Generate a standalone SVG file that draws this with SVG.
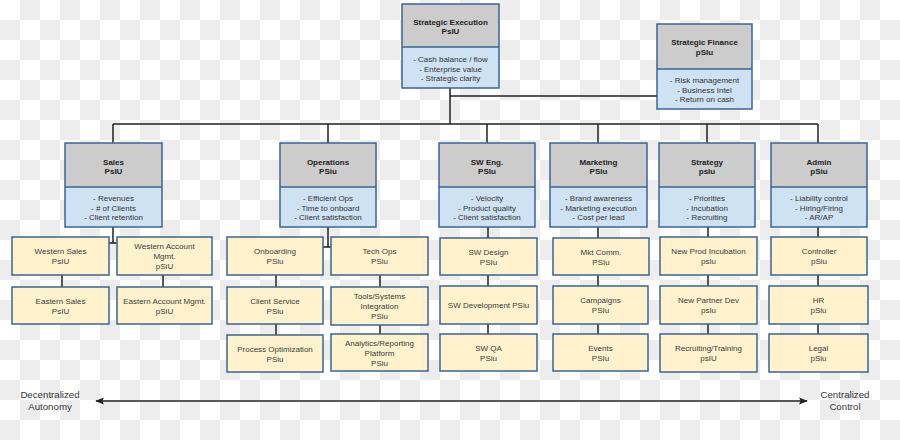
<svg xmlns="http://www.w3.org/2000/svg" width="900" height="440" viewBox="0 0 900 440">
<style>
.hd{fill:#cccccc;stroke:none}
.bd{fill:#cfe2f3;stroke:none}
.ol{fill:none;stroke:#3a6592;stroke-width:1.5}
.yl{fill:#fff2cc;stroke:#3a6592;stroke-width:1.5}
.sep{stroke:#3a6592;stroke-width:1.5}
text{font-family:"Liberation Sans",Arial,sans-serif;font-size:8px;text-anchor:middle}
.t{font-weight:bold;fill:#222}
.b{fill:#333}
.y{fill:#3c3c3c}
.ax{font-size:9.7px;fill:#333}
.cn{fill:none;stroke:#222;stroke-width:1.5}
</style>
<defs>
<pattern id="chk" width="40" height="40" patternUnits="userSpaceOnUse">
<rect width="40" height="40" fill="#ffffff"/>
<rect x="20" y="0" width="20" height="20" fill="#ededed"/>
<rect x="0" y="20" width="20" height="20" fill="#ededed"/>
</pattern>
<marker id="ah" viewBox="0 0 10 10" refX="9" refY="5" markerWidth="6" markerHeight="6" orient="auto-start-reverse" markerUnits="strokeWidth">
<path d="M0,1 L10,5 L0,9 L2,5 z" fill="#222"/>
</marker>
</defs>
<rect width="900" height="440" fill="url(#chk)"/>

<g id="connectors">
<path class="cn" d="M450,88 V124 M450,96 H657 M113,124 H818 M113,124 V143 M328,124 V143 M487,124 V143 M598,124 V143 M707,124 V143 M818,124 V143"/>
<path class="cn" d="M113,227 V243 M109,243 H117 M62,275 V287 M163,275 V287"/>
<path class="cn" d="M328,227 V247 M323,247 H331 M276,275 V335 M380,275 V334"/>
<path class="cn" d="M488,227 V334 M598,227 V334 M708,227 V334 M818,227 V334"/>
<path class="cn" d="M96,401 H807" marker-start="url(#ah)" marker-end="url(#ah)"/>
</g>

<g id="strategic-execution">
<rect class="hd" x="402" y="4" width="97" height="43"/><rect class="bd" x="402" y="47" width="97" height="41"/>
<line class="sep" x1="402" y1="47" x2="499" y2="47"/><rect class="ol" x="402" y="4" width="97" height="84"/>
<text class="t" x="450.5" y="24.5">Strategic Execution</text><text class="t" x="450.5" y="34">PsIU</text>
<text class="b" x="450.5" y="62">- Cash balance / flow</text><text class="b" x="450.5" y="71.5">- Enterprise value</text><text class="b" x="450.5" y="81">- Strategic clarity</text>
</g>
<g id="strategic-finance">
<rect class="hd" x="657" y="24" width="95" height="45"/><rect class="bd" x="657" y="69" width="95" height="40"/>
<line class="sep" x1="657" y1="69" x2="752" y2="69"/><rect class="ol" x="657" y="24" width="95" height="85"/>
<text class="t" x="704.5" y="45">Strategic Finance</text><text class="t" x="704.5" y="55">pSIu</text>
<text class="b" x="704.5" y="83">- Risk management</text><text class="b" x="704.5" y="92.5">- Business Intel</text><text class="b" x="704.5" y="102">- Return on cash</text>
</g>

<g id="sales">
<rect class="hd" x="65" y="143" width="97" height="44"/><rect class="bd" x="65" y="187" width="97" height="40"/>
<line class="sep" x1="65" y1="187" x2="162" y2="187"/><rect class="ol" x="65" y="143" width="97" height="84"/>
<text class="t" x="113.5" y="164.5">Sales</text><text class="t" x="113.5" y="174">PsIU</text>
<text class="b" x="113.5" y="201">- Revenues</text><text class="b" x="113.5" y="210.5">- # of Clients</text><text class="b" x="113.5" y="220">- Client retention</text>
</g>
<g id="operations">
<rect class="hd" x="280" y="143" width="96" height="44"/><rect class="bd" x="280" y="187" width="96" height="40"/>
<line class="sep" x1="280" y1="187" x2="376" y2="187"/><rect class="ol" x="280" y="143" width="96" height="84"/>
<text class="t" x="328" y="164.5">Operations</text><text class="t" x="328" y="174">PSiu</text>
<text class="b" x="328" y="201">- Efficient Ops</text><text class="b" x="328" y="210.5">- Time to onboard</text><text class="b" x="328" y="220">- Client satisfaction</text>
</g>
<g id="sw-eng">
<rect class="hd" x="439" y="143" width="96" height="44"/><rect class="bd" x="439" y="187" width="96" height="40"/>
<line class="sep" x1="439" y1="187" x2="535" y2="187"/><rect class="ol" x="439" y="143" width="96" height="84"/>
<text class="t" x="487" y="164.5">SW Eng.</text><text class="t" x="487" y="174">PSIu</text>
<text class="b" x="487" y="201">- Velocity</text><text class="b" x="487" y="210.5">- Product quality</text><text class="b" x="487" y="220">- Client satisfaction</text>
</g>
<g id="marketing">
<rect class="hd" x="550" y="143" width="97" height="44"/><rect class="bd" x="550" y="187" width="97" height="40"/>
<line class="sep" x1="550" y1="187" x2="647" y2="187"/><rect class="ol" x="550" y="143" width="97" height="84"/>
<text class="t" x="598.5" y="164.5">Marketing</text><text class="t" x="598.5" y="174">PSIu</text>
<text class="b" x="598.5" y="201">- Brand awareness</text><text class="b" x="598.5" y="210.5">- Marketing execution</text><text class="b" x="598.5" y="220">- Cost per lead</text>
</g>
<g id="strategy">
<rect class="hd" x="659" y="143" width="96" height="44"/><rect class="bd" x="659" y="187" width="96" height="40"/>
<line class="sep" x1="659" y1="187" x2="755" y2="187"/><rect class="ol" x="659" y="143" width="96" height="84"/>
<text class="t" x="707" y="164.5">Strategy</text><text class="t" x="707" y="174">psIu</text>
<text class="b" x="707" y="201">- Priorities</text><text class="b" x="707" y="210.5">- Incubation</text><text class="b" x="707" y="220">- Recruiting</text>
</g>
<g id="admin">
<rect class="hd" x="771" y="143" width="96" height="44"/><rect class="bd" x="771" y="187" width="96" height="40"/>
<line class="sep" x1="771" y1="187" x2="867" y2="187"/><rect class="ol" x="771" y="143" width="96" height="84"/>
<text class="t" x="819" y="164.5">Admin</text><text class="t" x="819" y="174">pSiu</text>
<text class="b" x="819" y="201">- Liability control</text><text class="b" x="819" y="210.5">- Hiring/Firing</text><text class="b" x="819" y="220">- AR/AP</text>
</g>

<g id="western-sales"><rect class="yl" x="12" y="237" width="97" height="38"/><text class="y" x="60.5" y="254">Western Sales</text><text class="y" x="60.5" y="264">PsIU</text></g>
<g id="western-account-mgmt"><rect class="yl" x="117" y="237" width="95" height="38"/><text class="y" x="164.5" y="249">Western Account</text><text class="y" x="164.5" y="259">Mgmt.</text><text class="y" x="164.5" y="269">pSiU</text></g>
<g id="eastern-sales"><rect class="yl" x="12" y="287" width="97" height="37"/><text class="y" x="60.5" y="303.5">Eastern Sales</text><text class="y" x="60.5" y="313.5">PsIU</text></g>
<g id="eastern-account-mgmt"><rect class="yl" x="117" y="287" width="95" height="37"/><text class="y" x="164.5" y="303.5">Eastern Account Mgmt.</text><text class="y" x="164.5" y="313.5">pSiU</text></g>

<g id="onboarding"><rect class="yl" x="227" y="237" width="96" height="38"/><text class="y" x="275" y="254">Onboarding</text><text class="y" x="275" y="264">PSiu</text></g>
<g id="tech-ops"><rect class="yl" x="331" y="237" width="97" height="38"/><text class="y" x="379.5" y="254">Tech Ops</text><text class="y" x="379.5" y="264">PSiu</text></g>
<g id="client-service"><rect class="yl" x="227" y="287" width="96" height="37"/><text class="y" x="275" y="303.5">Client Service</text><text class="y" x="275" y="313.5">PSiu</text></g>
<g id="tools-systems"><rect class="yl" x="331" y="287" width="97" height="38"/><text class="y" x="379.5" y="299">Tools/Systems</text><text class="y" x="379.5" y="309">Integration</text><text class="y" x="379.5" y="319">PSiu</text></g>
<g id="process-optimization"><rect class="yl" x="227" y="335" width="96" height="37"/><text class="y" x="275" y="351.5">Process Optimization</text><text class="y" x="275" y="361.5">PSiu</text></g>
<g id="analytics-reporting"><rect class="yl" x="331" y="334" width="97" height="37"/><text class="y" x="379.5" y="345.5">Analytics/Reporting</text><text class="y" x="379.5" y="355.5">Platform</text><text class="y" x="379.5" y="365.5">PSiu</text></g>

<g id="sw-design"><rect class="yl" x="440" y="238" width="97" height="37"/><text class="y" x="488.5" y="254.5">SW Design</text><text class="y" x="488.5" y="264.5">PSIu</text></g>
<g id="sw-development"><rect class="yl" x="440" y="286" width="97" height="38"/><text class="y" x="488.5" y="308">SW Development PSiu</text></g>
<g id="sw-qa"><rect class="yl" x="440" y="334" width="97" height="37"/><text class="y" x="488.5" y="350.5">SW QA</text><text class="y" x="488.5" y="360.5">PSiu</text></g>

<g id="mkt-comm"><rect class="yl" x="553" y="238" width="96" height="37"/><text class="y" x="601" y="254.5">Mkt Comm.</text><text class="y" x="601" y="264.5">PSIu</text></g>
<g id="campaigns"><rect class="yl" x="553" y="286" width="95" height="38"/><text class="y" x="600.5" y="303">Campaigns</text><text class="y" x="600.5" y="313">PSIu</text></g>
<g id="events"><rect class="yl" x="553" y="334" width="95" height="37"/><text class="y" x="600.5" y="350.5">Events</text><text class="y" x="600.5" y="360.5">PSIu</text></g>

<g id="new-prod-incubation"><rect class="yl" x="660" y="237" width="97" height="38"/><text class="y" x="708.5" y="254">New Prod Incubation</text><text class="y" x="708.5" y="264">psIu</text></g>
<g id="new-partner-dev"><rect class="yl" x="660" y="286" width="97" height="38"/><text class="y" x="708.5" y="303">New Partner Dev</text><text class="y" x="708.5" y="313">psIu</text></g>
<g id="recruiting-training"><rect class="yl" x="660" y="334" width="97" height="38"/><text class="y" x="708.5" y="351">Recruiting/Training</text><text class="y" x="708.5" y="361">psIU</text></g>

<g id="controller"><rect class="yl" x="771" y="237" width="96" height="38"/><text class="y" x="819" y="254">Controller</text><text class="y" x="819" y="264">pSiu</text></g>
<g id="hr"><rect class="yl" x="769" y="286" width="99" height="38"/><text class="y" x="818.5" y="303">HR</text><text class="y" x="818.5" y="313">pSiu</text></g>
<g id="legal"><rect class="yl" x="769" y="334" width="99" height="38"/><text class="y" x="818.5" y="351">Legal</text><text class="y" x="818.5" y="361">pSiu</text></g>

<g id="axis-labels">
<text class="ax" x="50" y="398">Decentralized</text><text class="ax" x="50" y="410">Autonomy</text>
<text class="ax" x="845" y="398">Centralized</text><text class="ax" x="845" y="410">Control</text>
</g>
</svg>
